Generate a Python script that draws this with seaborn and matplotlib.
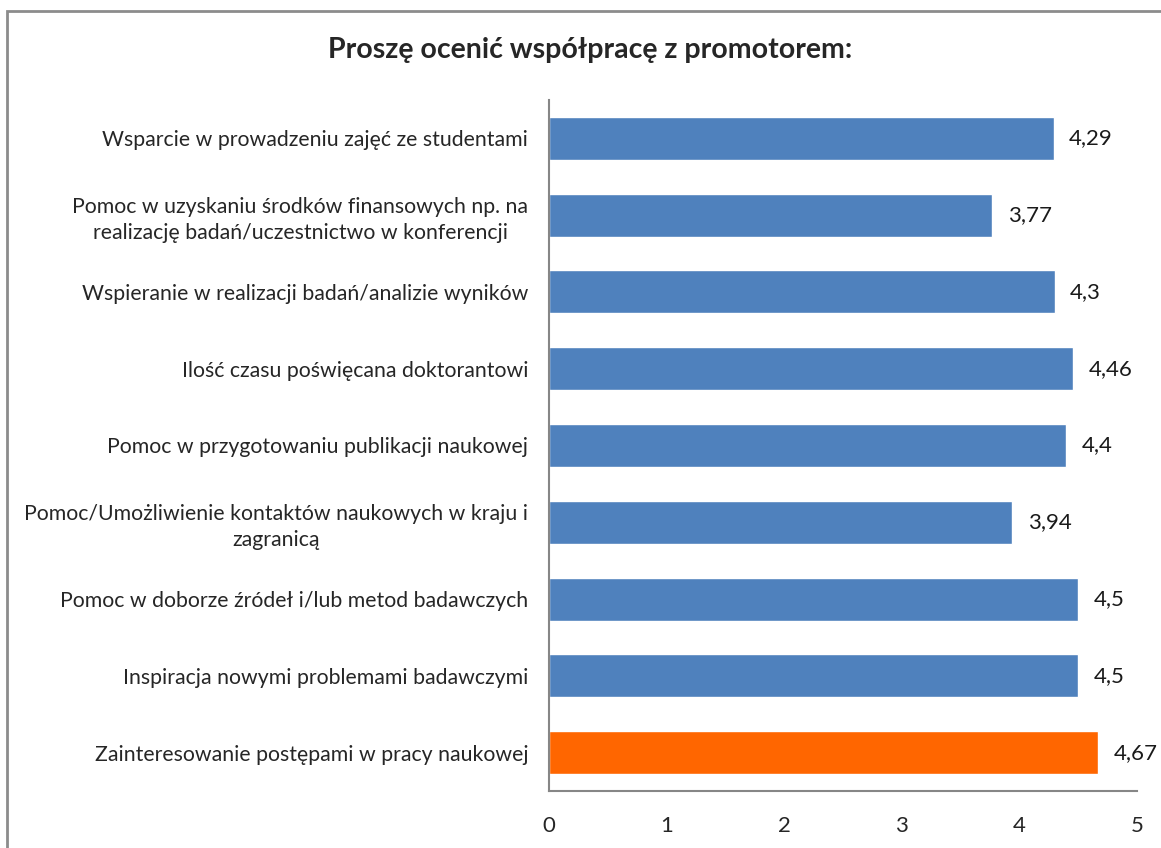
import numpy as np
import pandas as pd
import matplotlib
matplotlib.use('Agg')
import matplotlib.pyplot as plt
import seaborn as sns
from matplotlib.patches import Rectangle

categories = [
    'Wsparcie w prowadzeniu zajęć ze studentami',
    'Pomoc w uzyskaniu środków finansowych np. na\nrealizację badań/uczestnictwo w konferencji',
    'Wspieranie w realizacji badań/analizie wyników',
    'Ilość czasu poświęcana doktorantowi',
    'Pomoc w przygotowaniu publikacji naukowej',
    'Pomoc/Umożliwienie kontaktów naukowych w kraju i\nzagranicą',
    'Pomoc w doborze źródeł i/lub metod badawczych',
    'Inspiracja nowymi problemami badawczymi',
    'Zainteresowanie postępami w pracy naukowej',
]
scores = [4.29, 3.77, 4.3, 4.46, 4.4, 3.94, 4.5, 4.5, 4.67]
score_labels = ['4,29', '3,77', '4,3', '4,46', '4,4', '3,94', '4,5', '4,5', '4,67']
bar_colors = ['#4F81BD'] * 8 + ['#FF6600']
x_ticks = [0, 1, 2, 3, 4, 5]

sns.set_style('white')
plt.rcParams['font.family'] = ['Lato', 'DejaVu Sans']

df = pd.DataFrame({'kategoria': categories, 'ocena': scores})

fig = plt.figure(figsize=(11.61, 8.48), dpi=100)
ax = fig.add_axes([549 / 1161, 1 - 791 / 848, (1137 - 549) / 1161, (791 - 100) / 848])

sns.barplot(data=df, x='ocena', y='kategoria', hue='kategoria', palette=bar_colors,
            orient='h', width=0.56, legend=False, ax=ax, saturation=1)

ax.set_xlim(0, 5)
ax.set_ylim(len(categories) - 0.5, -0.5)
ax.set_xticks(x_ticks)
ax.set_xticklabels([str(t) for t in x_ticks], fontsize=16)
ax.tick_params(axis='x', length=0, pad=18)
ax.tick_params(axis='y', length=0, pad=15)
for lbl in ax.get_yticklabels():
    lbl.set_fontsize(15.3)
    lbl.set_multialignment('center')
    lbl.set_linespacing(1.35)
ax.set_xlabel('')
ax.set_ylabel('')

for s in ['top', 'right']:
    ax.spines[s].set_visible(False)
for s in ['left', 'bottom']:
    ax.spines[s].set_color('#868686')
    ax.spines[s].set_linewidth(1.5)

for i, (v, t) in enumerate(zip(scores, score_labels)):
    ax.text(v + 0.13, i, t, va='center', ha='left', fontsize=16, color='#1a1a1a')

fig.text(590 / 1161, 1 - 50 / 848, 'Proszę ocenić współpracę z promotorem:',
         ha='center', va='center', fontsize=20.5, fontweight='bold')

fig.patches.append(Rectangle((7 / 1161, -0.1), 1.2, 1 - 11 / 848 + 0.1,
                             transform=fig.transFigure, fill=False,
                             edgecolor='#8c8c8c', linewidth=2))

fig.savefig('out.png', dpi=100)
